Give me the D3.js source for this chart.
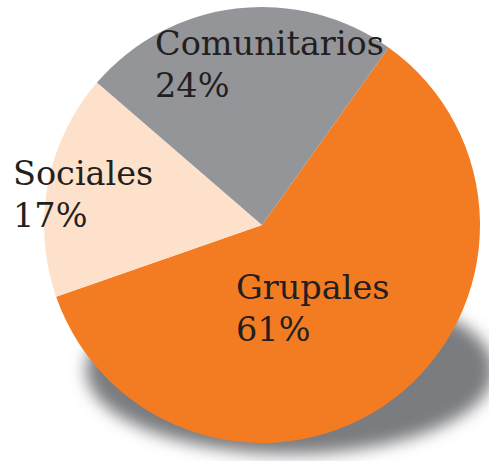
<!DOCTYPE html>
<html>
<head>
<meta charset="utf-8">
<script src="https://cdn.jsdelivr.net/npm/d3@7"></script>
<style>
  html, body { margin: 0; padding: 0; background: #ffffff; }
  svg { display: block; }
</style>
</head>
<body>
<script>
// Data
const categories = ["Grupales", "Sociales", "Comunitarios"];
const values = [61, 17, 24];
const valueLabels = ["61%", "17%", "24%"];
const colors = ["#F37C22", "#FDE1CA", "#939598"];

const W = 489, H = 461;
const cx = 262, cy = 225, R = 218;

const svg = d3.select("body").append("svg")
  .attr("width", W).attr("height", H);

const defs = svg.append("defs");
const blur = defs.append("filter").attr("id", "shadowBlur")
  .attr("x", "-30%").attr("y", "-30%").attr("width", "160%").attr("height", "160%");
blur.append("feGaussianBlur").attr("stdDeviation", 8);

// Drop shadow (ellipse beneath pie)
svg.append("ellipse")
  .attr("cx", 290).attr("cy", 370)
  .attr("rx", 204).attr("ry", 84)
  .attr("fill", "#7a7c7f")
  .attr("filter", "url(#shadowBlur)");

const data = categories.map((c, i) => ({ name: c, value: values[i], label: valueLabels[i], color: colors[i] }));

const start = 35.5 * Math.PI / 180;
const pie = d3.pie().sort(null).value(d => d.value)
  .startAngle(start).endAngle(start + 2 * Math.PI);
const arc = d3.arc().innerRadius(0).outerRadius(R);

const g = svg.append("g").attr("transform", `translate(${cx},${cy})`);
g.selectAll("path").data(pie(data)).join("path")
  .attr("d", arc)
  .attr("fill", d => d.data.color);

// Labels (positioned per slice, left-aligned)
const labelPos = {
  "Grupales": [236, 299],
  "Sociales": [13, 185],
  "Comunitarios": [155, 55]
};
const lineGap = 42;
const font = "'DejaVu Serif', Georgia, serif";
const tg = svg.append("g");
data.forEach(d => {
  const [x, y] = labelPos[d.name];
  const t = tg.append("text")
    .attr("x", x).attr("y", y)
    .attr("font-family", font)
    .attr("font-size", 33.5)
    .attr("fill", "#231F20");
  t.append("tspan").attr("x", x).text(d.name);
  t.append("tspan").attr("x", x).attr("dy", lineGap).text(d.label);
});
</script>
</body>
</html>
